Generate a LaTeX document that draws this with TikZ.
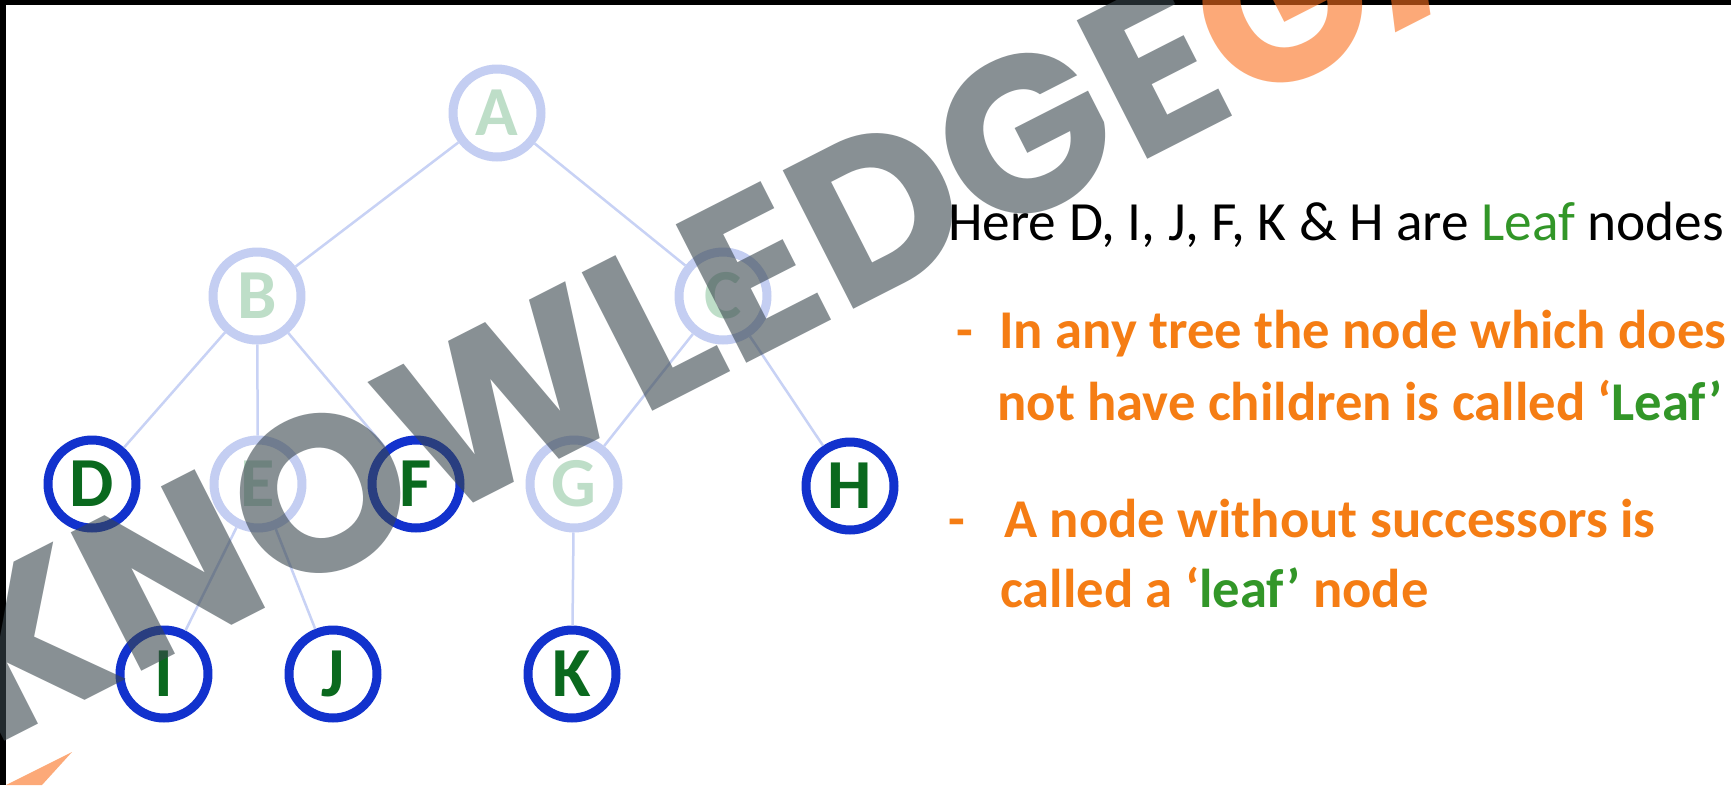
\documentclass[tikz,border=0pt]{standalone}
\usepackage{fontspec}
\setmainfont{Carlito}
\newfontfamily\wmfont{Poppins}
\usetikzlibrary{calc}

\definecolor{ringblue}{RGB}{18,50,205}
\definecolor{ringfade}{RGB}{196,206,242}
\definecolor{edgeblue}{RGB}{200,210,245}
\definecolor{leafgreen}{RGB}{10,105,30}
\definecolor{fadegreen}{RGB}{190,222,200}
\definecolor{txtorange}{RGB}{245,125,20}
\definecolor{txtgreen}{RGB}{50,150,40}
\definecolor{wmgray}{RGB}{57,70,77}
\definecolor{wmorange}{RGB}{250,113,30}

\begin{document}
\begin{tikzpicture}[x=0.02cm, y=-0.02cm,
  leaf/.style={circle, draw=ringblue, line width=0.18cm, minimum size=1.76cm, inner sep=0pt,
    font=\fontsize{40}{40}\selectfont\bfseries, text=leafgreen},
  inner/.style={leaf, draw=ringfade, text=fadegreen},
  edge/.style={edgeblue, line width=0.05cm},
  txt/.style={anchor=base west, inner sep=0pt, font=\fontsize{31.5}{31.5}\selectfont},
  otxt/.style={txt, text=txtorange, font=\fontsize{31.1}{31.1}\selectfont\bfseries}]
\useasboundingbox (0,0) rectangle (1731,785);
\fill[white] (0,0) rectangle (1731,785);
\fill[black] (0,0) rectangle (1731,5);
\fill[black] (0,0) rectangle (6,785);

% tree
\foreach \n/\x/\y in {A/497/113, B/257/296, C/723/296, E/258/484, G/574/484}
  \node[inner] (\n) at (\x,\y) {\n};
\foreach \n/\x/\y in {D/92/484, F/416/484, H/850/486, I/164/674, J/333/674, K/572/674}
  \node[leaf] (\n) at (\x,\y) {\n};
\foreach \a/\b in {A/B, A/C, B/D, B/E, B/F, C/G, C/H, E/I, E/J, G/K}
  \draw[edge] (\a) -- (\b);

% text
\node[txt] (head) at (948,240) {Here D, I, J, F, K \& H are \textcolor{txtgreen}{Leaf} nodes};
\node[otxt] (d1) at (956,348) {-};
\node[otxt] (l1) at (999,348) {In any tree the node which does};
\node[otxt] (l2) at (997,420) {not have children is called ‘\textcolor{txtgreen}{Leaf’}};
\node[otxt] (d2) at (948,537) {-};
\node[otxt] (l3) at (1004,537) {A node without successors is};
\node[otxt] (l4) at (1000,607) {called a ‘\textcolor{txtgreen}{leaf’} node};

% watermark
\node[anchor=base west, inner sep=0pt, rotate=27, text opacity=0.6, text=wmgray,
  font=\fontsize{126}{126}\wmfont\bfseries] (wm) at (-8,748) {KNOWLEDGE\textcolor{wmorange}{GATE}};
\fill[wmorange, opacity=0.6] (6,785) -- (72,752) -- (42,785) -- cycle;
\end{tikzpicture}
\end{document}
